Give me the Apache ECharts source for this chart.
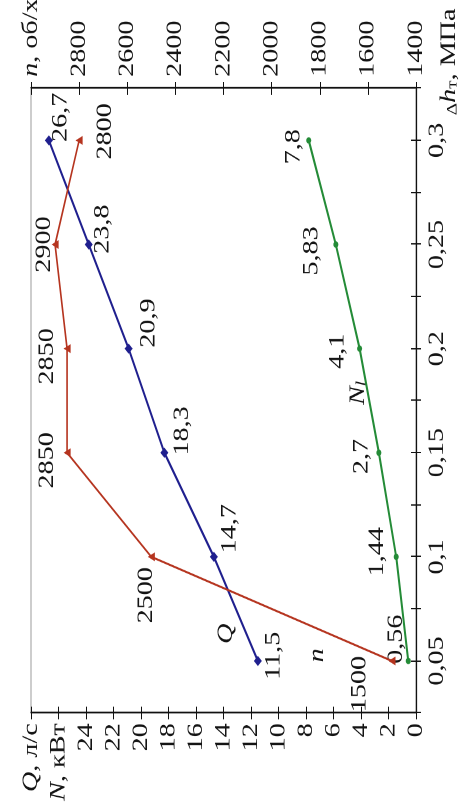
<!DOCTYPE html>
<html>
<head>
<meta charset="utf-8">
<script src="https://cdn.jsdelivr.net/npm/echarts@6/dist/echarts.min.js"></script>
<style>
  html, body { margin: 0; padding: 0; background: #fff; overflow: hidden; width: 462px; height: 809px; }
  /* The chart is laid out landscape and turned a quarter turn to stand on the page */
  #chart {
    position: absolute; left: 0; top: 0;
    width: 632px; height: 462px;
    transform-origin: 0 0;
    transform: translateY(809px) rotate(-90deg) scaleX(1.28);
  }
</style>
</head>
<body>
<div id="chart"></div>
<script>
// Pressure drop across the turbine, Δh_т, MPa
const pressureDrop = [0.05, 0.1, 0.15, 0.2, 0.25, 0.3];
// Flow rate Q, l/s
const flowRate = [11.5, 14.7, 18.3, 20.9, 23.8, 26.7];
// Shaft power N_l, kW
const power = [0.56, 1.44, 2.7, 4.1, 5.83, 7.8];
// Rotational speed n, rpm
const speed = [1500, 2500, 2850, 2850, 2900, 2800];

// Tick labels
const dhTickValues = [0.05, 0.1, 0.15, 0.2, 0.25, 0.3];
const dhTickLabels = ['0,05', '0,1', '0,15', '0,2', '0,25', '0,3'];
const qnTickValues = [0, 2, 4, 6, 8, 10, 12, 14, 16, 18, 20, 22, 24];
const speedTickValues = [1400, 1600, 1800, 2000, 2200, 2400, 2600, 2800];

// Value-label nudges (px) so the numbers sit clear of the curves
const flowLabelShift = [[4, 16], [22, 16], [17, 18], [20, 20], [12, 14], [18, 12]];
const powerLabelShift = [[17, -12], [4, -19], [-3, -17], [-2, -22], [-5, -24], [-5, -15]];
const speedLabelShift = [[-18, -32], [-30, -5], [-6, -20], [-6, -20], [0, -11], [7, 26]];

const serif = '"Liberation Serif", "Times New Roman", serif';
const ink = '#141414';
const axisInk = '#111';
const FS = 22;

const rich = {
  i: { fontFamily: serif, fontSize: FS, fontStyle: 'italic', color: ink },
  r: { fontFamily: serif, fontSize: FS, color: ink }
};

const decimal = v => String(v).replace('.', ',');
const near = (a, b) => Math.abs(a - b) < 1e-6;

function pointsOf(values, shifts) {
  return pressureDrop.map((x, i) => ({
    value: [x, values[i]],
    label: { offset: shifts[i] }
  }));
}

function valueLabel() {
  return {
    show: true,
    position: 'inside',
    formatter: p => decimal(p.value[1]),
    fontFamily: serif,
    fontSize: FS,
    color: ink
  };
}

const axisLine = { show: true, lineStyle: { color: axisInk, width: 1.2 } };
const outerTick = { show: true, length: 5, lineStyle: { color: axisInk, width: 1 } };
const innerTick = { show: true, inside: true, length: 5, lineStyle: { color: axisInk, width: 1 } };

const chart = echarts.init(document.getElementById('chart'), null, { renderer: 'canvas', devicePixelRatio: 2 });

chart.setOption({
  animation: false,
  backgroundColor: '#fff',
  grid: {
    left: 75, right: 69, top: 31, bottom: 46,
    show: true, borderColor: '#9a9a9a', borderWidth: 1, backgroundColor: 'transparent',
    outerBoundsMode: 'none'
  },
  xAxis: [
    {
      type: 'value', position: 'bottom', min: 0.025, max: 0.325, interval: 0.025,
      axisLine: axisLine, axisTick: outerTick, splitLine: { show: false },
      axisLabel: {
        margin: 10, fontFamily: serif, fontSize: FS, color: ink,
        showMinLabel: true, showMaxLabel: true,
        formatter: v => {
          const k = dhTickValues.findIndex(t => near(t, v));
          return k < 0 ? '' : dhTickLabels[k];
        }
      }
    },
    {
      type: 'value', position: 'bottom', min: 0.025, max: 0.325, interval: 0.025,
      axisLine: { show: false }, axisTick: innerTick, axisLabel: { show: false }, splitLine: { show: false }
    }
  ],
  yAxis: [
    {
      type: 'value', position: 'left', min: 0, max: 28, interval: 2,
      axisLine: axisLine, axisTick: outerTick, splitLine: { show: false },
      axisLabel: {
        margin: 8, fontFamily: serif, fontSize: FS, color: ink, rich: rich,
        showMinLabel: true, showMaxLabel: true,
        formatter: v => {
          if (near(v, 28)) return '{i|Q}{r|, л/с}';
          if (near(v, 26)) return '{i|N}{r|, кВт}';
          return qnTickValues.some(t => near(t, v)) ? String(v) : '';
        }
      }
    },
    {
      type: 'value', position: 'right', min: 1400, max: 3000, interval: 200,
      axisLine: axisLine, axisTick: outerTick, splitLine: { show: false },
      axisLabel: {
        margin: 9, fontFamily: serif, fontSize: FS, color: ink, rich: rich,
        showMinLabel: true, showMaxLabel: true,
        formatter: v => {
          if (near(v, 3000)) return '{i|n}{r|, об/хв}';
          return speedTickValues.some(t => near(t, v)) ? String(v) : '';
        }
      }
    },
    {
      type: 'value', position: 'left', min: 0, max: 28, interval: 2,
      axisLine: { show: false }, axisTick: innerTick, axisLabel: { show: false }, splitLine: { show: false }
    },
    {
      type: 'value', position: 'right', min: 1400, max: 3000, interval: 200,
      axisLine: { show: false }, axisTick: innerTick, axisLabel: { show: false }, splitLine: { show: false }
    }
  ],
  series: [
    {
      name: 'Q', type: 'line', xAxisIndex: 0, yAxisIndex: 0,
      data: pointsOf(flowRate, flowLabelShift),
      symbol: 'diamond', symbolSize: 8,
      lineStyle: { color: '#1f1f8e', width: 2 },
      itemStyle: { color: '#1f1f8e' },
      label: valueLabel(),
      emphasis: { disabled: true }, z: 3
    },
    {
      name: 'n', type: 'line', xAxisIndex: 0, yAxisIndex: 1,
      data: pointsOf(speed, speedLabelShift),
      symbol: 'triangle', symbolSize: 7,
      lineStyle: { color: '#b5341f', width: 1.6 },
      itemStyle: { color: '#b5341f' },
      label: valueLabel(),
      emphasis: { disabled: true }, z: 4
    },
    {
      name: 'N', type: 'line', xAxisIndex: 0, yAxisIndex: 0,
      data: pointsOf(power, powerLabelShift),
      symbol: 'circle', symbolSize: 5,
      lineStyle: { color: '#248b37', width: 2 },
      itemStyle: { color: '#248b37' },
      label: valueLabel(),
      emphasis: { disabled: true }, z: 3
    }
  ],
  graphic: [
    { type: 'text', x: 137, y: 226, style: { text: 'Q', fontFamily: serif, fontSize: FS, fontStyle: 'italic', fill: ink, align: 'center', verticalAlign: 'middle' } },
    { type: 'text', x: 120, y: 317, style: { text: 'n', fontFamily: serif, fontSize: FS, fontStyle: 'italic', fill: ink, align: 'center', verticalAlign: 'middle' } },
    {
      type: 'text', x: 325, y: 358,
      style: {
        text: '{a|N}{b|l}', align: 'center', verticalAlign: 'middle',
        rich: {
          a: { fontFamily: serif, fontSize: FS, fontStyle: 'italic', fill: ink, verticalAlign: 'bottom' },
          b: { fontFamily: serif, fontSize: 15, fontStyle: 'italic', fill: ink, verticalAlign: 'bottom' }
        }
      }
    },
    {
      type: 'text', x: 542, y: 449,
      style: {
        text: '{d|Δ}{h|h}{t|т}{r|, МПа}', align: 'left', verticalAlign: 'middle',
        rich: {
          d: { fontFamily: serif, fontSize: 15, fill: ink, verticalAlign: 'bottom' },
          h: { fontFamily: serif, fontSize: FS, fontStyle: 'italic', fill: ink, verticalAlign: 'bottom' },
          t: { fontFamily: serif, fontSize: 15, fill: ink, verticalAlign: 'bottom' },
          r: { fontFamily: serif, fontSize: FS, fill: ink, verticalAlign: 'bottom' }
        }
      }
    }
  ]
});
</script>
</body>
</html>
